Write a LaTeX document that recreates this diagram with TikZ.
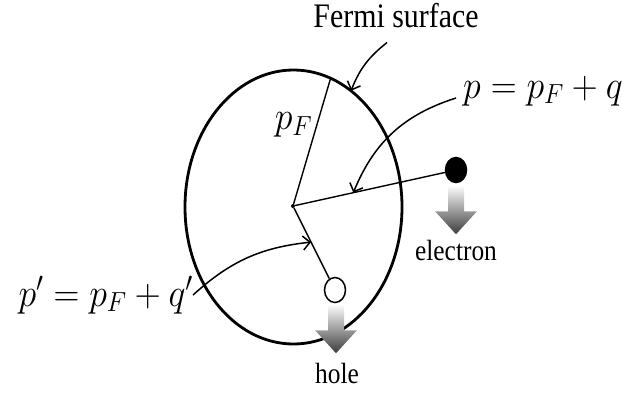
\RequirePackage{fix-cm}
\documentclass[tikz,border=0pt]{standalone}
\usepackage{amsmath}
\usepackage{fontspec}
\setmainfont{Liberation Serif}
\usetikzlibrary{arrows.meta,positioning,calc,shapes.geometric}
\definecolor{ShadeDark}{HTML}{3C3C3C}

\begin{document}
\begin{tikzpicture}[
    x=1bp, y=1bp,
    vec/.style={
      line width=1.4bp
    },
    pointer/.style={
      -{Straight Barb[length=7bp,width=14bp]},
      line width=1.5bp
    },
    particle/.style={
      ellipse,
      draw,
      line width=1.5bp,
      fill=#1,
      minimum width=21bp,
      minimum height=25bp,
      inner sep=0pt
    },
    txt/.style={
      font=\fontsize{#1}{#1}\selectfont,
      yscale=1.15,
      inner sep=0pt
    },
    mathlbl/.style={
      font=\fontsize{36}{42}\selectfont,
      yscale=1.1,
      inner sep=0pt
    },
    shadearrow/.style={
      top color=white,
      bottom color=ShadeDark
    }
  ]
  \useasboundingbox (0,0) rectangle (627,394);

  % Fermi sphere
  \coordinate (C) at (293.5,187);
  \draw[line width=2.8bp] (C) ellipse [x radius=108.5, y radius=137];
  \node[circle, fill, inner sep=0pt, minimum size=4bp] (O) at (293,188) {};
  \coordinate (kF) at ($(C)+(70:108.5 and 137)$);
  \coordinate (fTip) at ($(C)+(58:108.5 and 137)$);

  % Electron and hole
  \node[particle=black] (el) at (456,224) {};
  \node[particle=white] (ho) at (335,104) {};

  % Momentum vectors
  \draw[vec] (O) -- (kF) node[pos=0.63, left=4bp, mathlbl] {$p_F$};
  \draw[vec] (O) -- (el);
  \draw[vec] (O) -- (ho);
  \coordinate (pTip) at ($(O)!0.37!(el)$);
  \coordinate (hTip) at ($(O)!0.43!(ho)$);

  % Labels
  \node[txt=30, anchor=base] (fermi) at (396,366) {Fermi surface};
  \node[mathlbl, anchor=base west] (plbl) at (463,296) {$p = p_F + q$};
  \node[mathlbl, anchor=base east] (pplbl) at (193,88) {$p' = p_F + q'$};
  \node[txt=25.5, anchor=base] (elbl) at (456,134) {electron};
  \node[txt=25.5, anchor=base] (hlbl) at (337,11) {hole};

  % Pointers
  \draw[pointer] ([shift={(-9,-14)}]fermi.south) to[bend right=15] (fTip);
  \draw[pointer] ([xshift=-7]plbl.base west) to[bend right=25] (pTip);
  \draw[pointer] (pplbl.east) to[bend left=18] (hTip);

  % Shaded drift arrows
  \shade[shadearrow] ([shift={(-8,-2)}]el.south) -- ++(0,-26) -- ++(-13,0)
    -- ++(21,-23) -- ++(21,23) -- ++(-13,0) -- ++(0,26) -- cycle;
  \shade[shadearrow] ([shift={(-7,-1)}]ho.south) -- ++(0,-26) -- ++(-13,0)
    -- ++(21,-23) -- ++(21,23) -- ++(-13,0) -- ++(0,26) -- cycle;

\end{tikzpicture}
\end{document}
